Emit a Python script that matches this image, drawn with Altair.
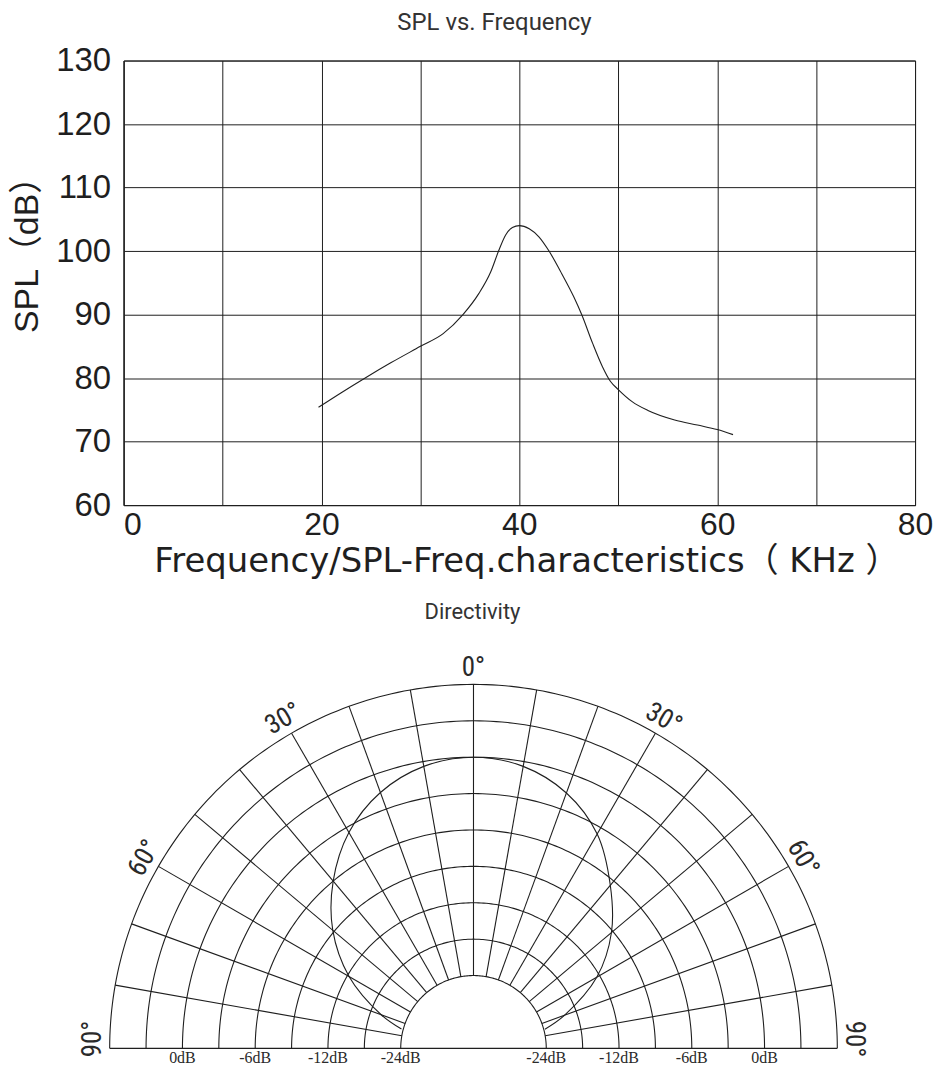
import altair as alt
import numpy as np
import pandas as pd

# ---------------- SPL vs. Frequency ----------------
freq_khz = [19.7, 22.0, 24.5, 27.0, 30.0, 32.3, 34.3, 35.9, 37.1, 37.9, 38.6, 39.3,
            40.0, 41.0, 42.0, 43.0, 44.3, 45.5, 46.3, 47.4, 48.4, 49.2, 50.0, 51.4,
            53.0, 55.7, 58.0, 60.0, 61.6]
spl_db = [75.4, 77.7, 80.1, 82.4, 85.0, 87.0, 90.0, 93.3, 96.7, 100.0, 102.5, 103.7,
          104.0, 103.5, 102.2, 100.0, 96.4, 92.8, 90.0, 85.5, 81.8, 79.5, 78.2, 76.3,
          74.9, 73.4, 72.6, 71.9, 71.1]
x_grid_ticks = [0, 10, 20, 30, 40, 50, 60, 70, 80]
y_grid_ticks = [60, 70, 80, 90, 100, 110, 120, 130]

# ---------------- Directivity ----------------
ring_db = [-24, -18, -12, -9, -6, -3, 0, 3, 6]          # grid rings, inner -> outer
spoke_deg = [-80, -70, -60, -50, -40, -30, -20, -10, 0, 10, 20, 30, 40, 50, 60, 70, 80]
angle_label_deg = [-90, -60, -30, 0, 30, 60, 90]
angle_label_txt = ["90°", "60°", "30°", "0°", "30°", "60°", "90°"]
db_label_val = [0, -6, -12, -24]
db_label_txt = ["0dB", "-6dB", "-12dB", "-24dB"]
dir_deg = [-75, -70, -60, -50, -40, -30, -20, -10, 0, 10, 20, 30, 40, 50, 60, 70, 75]
dir_db = [-23.7, -19.8, -12.3, -8.85, -6.0, -3.45, -1.56, -0.4, 0.0,
          -0.4, -1.6, -3.6, -6.45, -9.15, -12.5, -20.0, -23.8]

INK = "#1f1f1f"

# ---------------- top chart ----------------
spl_df = pd.DataFrame({"freq": freq_khz, "spl": spl_db})

top = alt.Chart(spl_df).mark_line(color=INK, strokeWidth=1.1, interpolate="monotone").encode(
    x=alt.X("freq:Q",
            scale=alt.Scale(domain=[0, 80], nice=False, zero=False),
            axis=alt.Axis(values=x_grid_ticks,
                          labelExpr="datum.value % 20 == 0 ? datum.label : ''",
                          labelFlush=False,
                          labelFontSize=32,
                          labelAlign={"condition": {"test": "datum.value == 0", "value": "left"}, "value": "center"},
                          labelPadding=4,
                          title="Frequency/SPL-Freq.characteristics（ KHz ）",
                          titleFont="DejaVu Sans, Noto Sans CJK SC",
                          titleFontSize=34, titleFontWeight="normal", titleColor=INK,
                          titleX=404,
                          titlePadding=5)),
    y=alt.Y("spl:Q",
            scale=alt.Scale(domain=[60, 130], nice=False, zero=False),
            axis=alt.Axis(values=y_grid_ticks,
                          labelPadding=13,
                          labelFontSize=33,
                          title="SPL（dB）",
                          titleFont="Liberation Sans, Noto Sans CJK SC",
                          titleFontSize=34, titleFontWeight="normal", titleColor=INK,
                          titleAngle=270, titleAlign="center", titleBaseline="middle",
                          titleX=-96, titleY=186)),
).properties(
    width=794, height=446,
    title=alt.TitleParams("SPL vs. Frequency", font="Roboto", fontSize=24, fontWeight="normal",
                          color="#333333", anchor="middle", dx=-25, offset=10),
)

# ---------------- bottom chart (polar directivity) ----------------
RING_RADII = np.arange(2, 2 + len(ring_db))  # radial scale range (grid units)


def radius(db):
    return np.interp(db, ring_db, RING_RADII)


r_in = float(radius(ring_db[0]))
r_out = float(radius(ring_db[-1]))

arc_rows = []
for db in ring_db:
    r = float(radius(db))
    for k, a in enumerate(np.linspace(-90, 90, 181)):
        t = np.radians(a)
        arc_rows.append({"ring": db, "k": k, "x": r * np.sin(t), "y": r * np.cos(t)})
arc_df = pd.DataFrame(arc_rows)

spoke_df = pd.DataFrame({"a": spoke_deg})
spoke_df["x"] = r_in * np.sin(np.radians(spoke_df["a"]))
spoke_df["y"] = r_in * np.cos(np.radians(spoke_df["a"]))
spoke_df["x2"] = r_out * np.sin(np.radians(spoke_df["a"]))
spoke_df["y2"] = r_out * np.cos(np.radians(spoke_df["a"]))

base_df = pd.DataFrame({"x": [-r_out], "x2": [r_out], "y": [0.0]})

curve_df = pd.DataFrame({"a": dir_deg, "db": dir_db})
curve_df["r"] = radius(curve_df["db"])
curve_df["x"] = curve_df["r"] * np.sin(np.radians(curve_df["a"]))
curve_df["y"] = curve_df["r"] * np.cos(np.radians(curve_df["a"]))

LABEL_GAP = 0.45
lab_df = pd.DataFrame({"a": angle_label_deg, "txt": angle_label_txt})
pos_a = np.clip(lab_df["a"], -88.6, 88.6)
lab_df["x"] = (r_out + LABEL_GAP) * np.sin(np.radians(pos_a))
lab_df["y"] = (r_out + LABEL_GAP) * np.cos(np.radians(pos_a))
lab_df["rot"] = lab_df["a"] % 360

dbl_df = pd.DataFrame({"txt": db_label_txt * 2,
                       "side": [-1] * 4 + [1] * 4,
                       "db": db_label_val * 2})
dbl_df["x"] = dbl_df["side"] * radius(dbl_df["db"])
dbl_df["y"] = 0.0

UNIT = 36.5
XDOM = [-351 / UNIT, 443 / UNIT]
YDOM = [0, 10.9]
xs = alt.Scale(domain=XDOM, nice=False, zero=False)
ys = alt.Scale(domain=YDOM, nice=False, zero=False)

arcs = alt.Chart(arc_df).mark_line(color=INK, strokeWidth=1.1).encode(
    x=alt.X("x:Q", scale=xs, axis=None),
    y=alt.Y("y:Q", scale=ys, axis=None),
    detail="ring:N",
    order="k:Q",
)
spokes = alt.Chart(spoke_df).mark_rule(color=INK, strokeWidth=1.1).encode(
    x=alt.X("x:Q", scale=xs, axis=None), y=alt.Y("y:Q", scale=ys, axis=None),
    x2="x2:Q", y2="y2:Q",
)
baseline = alt.Chart(base_df).mark_rule(color=INK, strokeWidth=1.2).encode(
    x=alt.X("x:Q", scale=xs, axis=None), x2="x2:Q", y=alt.Y("y:Q", scale=ys, axis=None),
)
curve = alt.Chart(curve_df).mark_line(color=INK, strokeWidth=1.1, interpolate="catmull-rom").encode(
    x=alt.X("x:Q", scale=xs, axis=None),
    y=alt.Y("y:Q", scale=ys, axis=None),
    order="a:Q",
)
angle_labels = alt.Chart(lab_df).mark_text(
    font="Liberation Sans Narrow, Roboto Condensed, Liberation Sans", fontSize=27,
    color="#2a2a2a", align="center", baseline="middle",
).encode(
    x=alt.X("x:Q", scale=xs, axis=None),
    y=alt.Y("y:Q", scale=ys, axis=None),
    text="txt:N",
    angle=alt.Angle("rot:Q", scale=None),
)
db_labels = alt.Chart(dbl_df).mark_text(
    font="Liberation Serif", fontSize=16, color="#2a2a2a", align="center", baseline="top", dy=2,
).encode(
    x=alt.X("x:Q", scale=xs, axis=None),
    y=alt.Y("y:Q", scale=ys, axis=None),
    text="txt:N",
)

bottom = alt.layer(arcs, spokes, baseline, curve, angle_labels, db_labels).properties(
    width=794, height=round((YDOM[1] - YDOM[0]) * UNIT),
    title=alt.TitleParams("Directivity", font="Roboto", fontSize=22, fontWeight="normal",
                          color="#333333", anchor="middle", dx=-47, offset=28),
    view=alt.ViewBackground(strokeOpacity=0),
)

chart = alt.vconcat(top, bottom, spacing=21).properties(
    padding={"top": 0, "left": 2, "right": 0, "bottom": 0},
).configure(
    background="white",
).configure_axis(
    grid=True, gridColor=INK, gridOpacity=1, gridWidth=1,
    domain=True, domainColor=INK, domainWidth=1,
    ticks=False,
    labelFont="Liberation Sans", labelFontSize=31, labelColor=INK,
).configure_view(stroke=INK, strokeWidth=1)

chart.save("out.html", embed_options={"renderer": "svg", "actions": False})
